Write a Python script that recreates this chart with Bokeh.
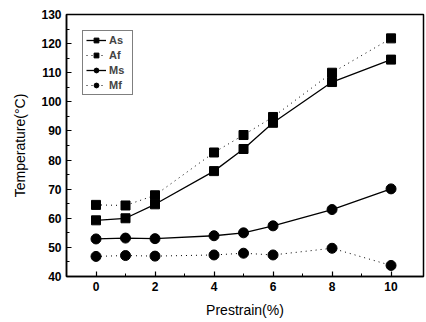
from bokeh.plotting import figure
from bokeh.models import Range1d, Legend, LegendItem, FixedTicker
from bokeh.embed import file_html
from bokeh.resources import INLINE

prestrain = [0, 1, 2, 4, 5, 6, 8, 10]
As = [59.3, 60.0, 64.8, 76.2, 83.8, 92.8, 106.8, 114.5]
Af = [64.6, 64.4, 67.9, 82.6, 88.6, 94.8, 110.0, 121.8]
Ms = [52.9, 53.2, 53.0, 54.0, 55.0, 57.4, 63.0, 70.1]
Mf = [46.9, 47.2, 47.0, 47.4, 48.0, 47.4, 49.7, 43.8]
x_ticks = [0, 2, 4, 6, 8, 10]
y_ticks = [40, 50, 60, 70, 80, 90, 100, 110, 120, 130]

p = figure(frame_width=357, frame_height=262, output_backend="svg", toolbar_location=None,
           x_range=Range1d(-1, 11.1), y_range=Range1d(40, 130),
           min_border_left=66, min_border_right=3, min_border_top=14, min_border_bottom=46)
p.background_fill_color = "white"
p.border_fill_color = "white"
p.outline_line_color = "black"
p.outline_line_width = 1.5
p.xgrid.visible = False
p.ygrid.visible = False

font = "Liberation Sans"
for ax in (p.xaxis[0], p.yaxis[0]):
    ax.axis_line_width = 1.5
    ax.major_tick_in = 5
    ax.major_tick_out = 0
    ax.minor_tick_in = 3
    ax.minor_tick_out = 0
    ax.major_tick_line_width = 1.2
    ax.major_label_text_font = font
    ax.major_label_text_font_size = "12px"
    ax.major_label_text_font_style = "bold"
    ax.major_label_text_color = "black"
    ax.axis_label_text_font = font
    ax.axis_label_text_font_size = "14px"
    ax.axis_label_text_font_style = "normal"
    ax.axis_label_text_color = "black"

p.xaxis.ticker = FixedTicker(ticks=x_ticks, minor_ticks=[1, 3, 5, 7, 9])
p.yaxis.ticker = FixedTicker(ticks=y_ticks, minor_ticks=[45, 55, 65, 75, 85, 95, 105, 115, 125])
p.xaxis.axis_label = "Prestrain(%)"
p.yaxis.axis_label = "Temperature(°C)"
p.xaxis.axis_label_standoff = 8
p.yaxis.axis_label_standoff = 10

l1 = p.line(prestrain, As, line_color="black", line_width=1.3)
m1 = p.scatter(prestrain, As, marker="square", size=9, color="black")
l2 = p.line(prestrain, Af, line_color="black", line_width=1, line_dash="1 4")
m2 = p.scatter(prestrain, Af, marker="square", size=9, color="black")
l3 = p.line(prestrain, Ms, line_color="black", line_width=1.3)
m3 = p.scatter(prestrain, Ms, marker="circle", size=10, color="black")
l4 = p.line(prestrain, Mf, line_color="black", line_width=1, line_dash="1 4")
m4 = p.scatter(prestrain, Mf, marker="circle", size=10, color="black")

legend = Legend(items=[
    LegendItem(label="As", renderers=[l1, m1]),
    LegendItem(label="Af", renderers=[l2, m2]),
    LegendItem(label="Ms", renderers=[l3, m3]),
    LegendItem(label="Mf", renderers=[l4, m4]),
], location="top_left")
legend.border_line_color = "black"
legend.border_line_width = 1
legend.label_text_font = font
legend.label_text_font_size = "11px"
legend.label_text_font_style = "bold"
legend.glyph_width = 20
legend.glyph_height = 12
legend.label_height = 12
legend.spacing = 3
legend.padding = 3
legend.margin = 16
legend.label_standoff = 3
p.add_layout(legend)

open("out.html", "w").write(file_html(p, INLINE))
